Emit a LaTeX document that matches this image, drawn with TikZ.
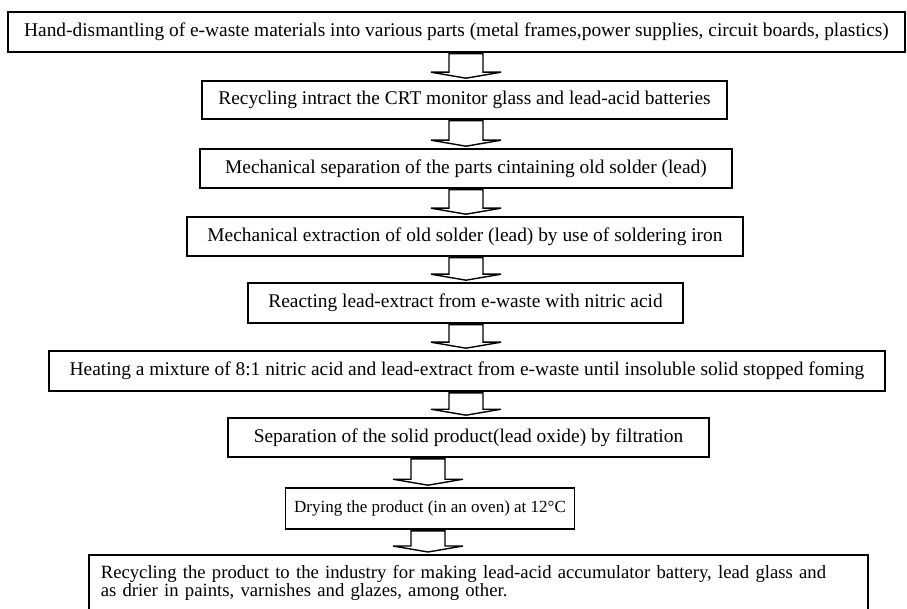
\documentclass[tikz,border=0pt]{standalone}
\usepackage{fontspec}
\setmainfont{Liberation Serif}
\usetikzlibrary{calc}

\tikzset{
  stepbox/.style={draw, line width=1.6pt, inner sep=0pt, align=center,
    font=\fontsize{19.4}{17}\selectfont},
  blockarrow/.style={draw, line width=1.4pt, fill=white, line join=miter},
}
% block arrow from the bottom of one box to the top of the next, at x = #3
\newcommand{\boxarrow}[3]{%
  \draw[blockarrow] let \p1=(#1.south), \p2=(#2.north) in
    (#3-17pt,\y1-1pt) -- (#3+17pt,\y1-1pt) -- (#3+17pt,\y2+8pt)
    -- (#3+35pt,\y2+8pt) -- (#3,\y2+2pt) -- (#3-35pt,\y2+8pt)
    -- (#3-17pt,\y2+8pt) -- cycle;}

\begin{document}
\begin{tikzpicture}[x=1pt, y=1pt]
  \useasboundingbox (0,0) rectangle (907,-609);
  \clip (0,0) rectangle (907,-609);

  \node[stepbox, minimum width=897pt, minimum height=40pt] (dismantle) at (456.5,-32)
    {Hand-dismantling of e-waste materials into various parts (metal frames,power supplies, circuit boards, plastics)};
  \node[stepbox, minimum width=525pt, minimum height=38pt] (crt) at (464.5,-100)
    {Recycling intract the CRT monitor glass and lead-acid batteries};
  \node[stepbox, minimum width=532pt, minimum height=39pt] (separate) at (466,-168.5)
    {Mechanical separation of the parts cintaining old solder (lead)};
  \node[stepbox, minimum width=556pt, minimum height=39pt] (extract) at (465,-236.5)
    {Mechanical extraction of old solder (lead) by use of soldering iron};
  \node[stepbox, minimum width=435pt, minimum height=40pt] (react) at (465.5,-303)
    {Reacting lead-extract from e-waste with nitric acid};
  \node[stepbox, minimum width=836pt, minimum height=40pt] (heat) at (467,-371)
    {Heating a mixture of 8:1 nitric acid and lead-extract from e-waste until insoluble solid stopped foming};
  \node[stepbox, minimum width=481pt, minimum height=39pt] (filter) at (468.5,-437.5)
    {Separation of the solid product(lead oxide) by filtration};
  \node[stepbox, minimum width=289pt, minimum height=41pt, font=\fontsize{17}{17}\selectfont]
    (dry) at (430,-508.5) {Drying the product (in an oven) at 12°C};
  \node[stepbox, anchor=north west, align=left, text width=755pt, inner xsep=12pt,
        inner ysep=11pt, text depth=60pt, font=\fontsize{18.7}{17}\selectfont] (reuse) at (88,-554)
    {Recycling the product to the industry for making lead-acid accumulator battery, lead glass and\\
     as drier in paints, varnishes and glazes, among other.};

  \boxarrow{dismantle}{crt}{466pt}
  \boxarrow{crt}{separate}{466pt}
  \boxarrow{separate}{extract}{466pt}
  \boxarrow{extract}{react}{466pt}
  \boxarrow{react}{heat}{466pt}
  \boxarrow{heat}{filter}{466pt}
  \boxarrow{filter}{dry}{428pt}
  \boxarrow{dry}{reuse}{428pt}
\end{tikzpicture}
\end{document}
